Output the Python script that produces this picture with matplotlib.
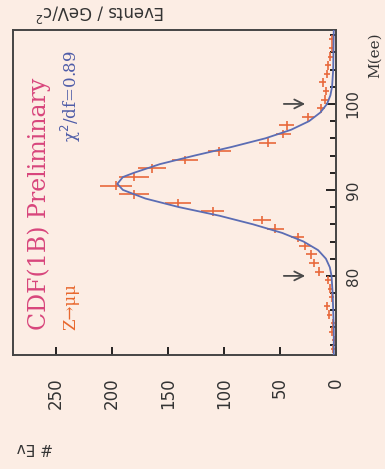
import numpy as np
import matplotlib
matplotlib.use("Agg")
import matplotlib.pyplot as plt
from matplotlib.ticker import MultipleLocator

# Dimuon invariant mass spectrum (1 GeV bins) and fitted line shape
mass_bins = [71.5, 72.5, 73.5, 74.5, 75.5, 76.5, 77.5, 78.5, 79.5, 80.5,
             81.5, 82.5, 83.5, 84.5, 85.5, 86.5, 87.5, 88.5, 89.5, 90.5,
             91.5, 92.5, 93.5, 94.5, 95.5, 96.5, 97.5, 98.5, 99.5, 100.5,
             101.5, 102.5, 103.5, 104.5, 105.5, 106.5, 107.5]
events = [3, 2, 4, 3, 6, 8, 4, 5, 7, 15,
          20, 22, 28, 34, 54, 66, 110, 141, 180, 196,
          180, 164, 135, 104, 61, 47, 44, 25, 13, 10,
          9, 12, 8, 7, 5, 4, 4]

fit_mass = [70.8, 74, 78, 80, 81, 82, 83, 84, 85, 86, 87, 88, 89, 90, 90.7,
            91.5, 92, 93, 94, 95, 96, 97, 98, 99, 100, 101, 102, 104, 108.6]
fit_events = [2, 2, 3, 4, 5.5, 9, 16, 29, 48, 74, 104, 140, 170, 190, 195,
              190, 180, 157, 126, 93, 63, 40, 24, 14, 8, 5, 3.5, 2.5, 2]

window_edges = [80, 100]

count_ticks = [0, 50, 100, 150, 200, 250]
mass_ticks = [80, 90, 100]

bg = "#fcede4"
data_col = "#e8683a"
fit_col = "#5b6db4"

fig = plt.figure(figsize=(3.85, 4.69), dpi=100, facecolor=bg)
W, H = 385, 469
ax = fig.add_axes([13 / W, 1 - 355 / H, (336 - 13) / W, (355 - 30) / H])
ax.set_facecolor(bg)

ev = np.array(events, dtype=float)
ax.errorbar(ev, mass_bins, xerr=np.sqrt(ev), yerr=0.5, fmt="none",
            ecolor=data_col, elinewidth=1.4, capsize=0, alpha=0.85, zorder=2)
ax.plot(fit_events, fit_mass, color=fit_col, lw=1.3, zorder=3)

for m in window_edges:
    ax.annotate("", xy=(25, m), xytext=(49, m),
                arrowprops=dict(arrowstyle="->", color="#4a4a4a", lw=1.3,
                                mutation_scale=16))

ax.set_xlim(288, 0)
ax.set_ylim(70.8, 108.6)

ax.set_xticks(count_ticks)
ax.set_xticklabels([str(t) for t in count_ticks], rotation=90,
                   fontsize=12, color="#333333")
ax.yaxis.tick_right()
ax.set_yticks(mass_ticks)
ax.set_yticklabels([str(t) for t in mass_ticks], rotation=90,
                   va="center", fontsize=11, color="#333333")
ax.yaxis.set_minor_locator(MultipleLocator(2))
ax.tick_params(axis="x", direction="in", length=6, width=1.2, pad=16,
               top=False)
ax.tick_params(axis="y", which="both", direction="in", width=1.2, pad=7,
               left=False)
ax.tick_params(axis="y", which="major", length=7)
ax.tick_params(axis="y", which="minor", length=4)
for s in ax.spines.values():
    s.set_color("#444444")
    s.set_linewidth(1.4)

# legend-style annotations, written along the mass axis
y0 = (355 - 330) / 325
ax.text(0.082, y0, "CDF(1B) Preliminary", transform=ax.transAxes,
        rotation=90, ha="center", va="bottom", fontsize=17,
        family="DejaVu Serif", color="#d8467c")
ax.text(0.178, y0, "Z\u2192\u03bc\u03bc", transform=ax.transAxes,
        rotation=90, ha="center", va="bottom", fontsize=12,
        family="DejaVu Serif", color="#e8682e")
ax.text(0.178, (355 - 50) / 325, "\u03c7$^2$/df=0.89",
        transform=ax.transAxes, rotation=90, ha="center", va="top",
        fontsize=12, family="DejaVu Serif", color="#4e5ca8")

fig.text(375 / W, 1 - 55 / H, "M(ee)", rotation=90, ha="center",
         va="center", fontsize=11, color="#333333", family="DejaVu Serif")
fig.text(100 / W, 1 - 12 / H, "Events / GeV/c$^2$", rotation=180,
         ha="center", va="center", fontsize=12, color="#333333")
fig.text(35 / W, 1 - 447 / H, "# Ev", rotation=180, ha="center",
         va="center", fontsize=11, color="#333333")

fig.savefig("out.png", dpi=100, facecolor=bg)
